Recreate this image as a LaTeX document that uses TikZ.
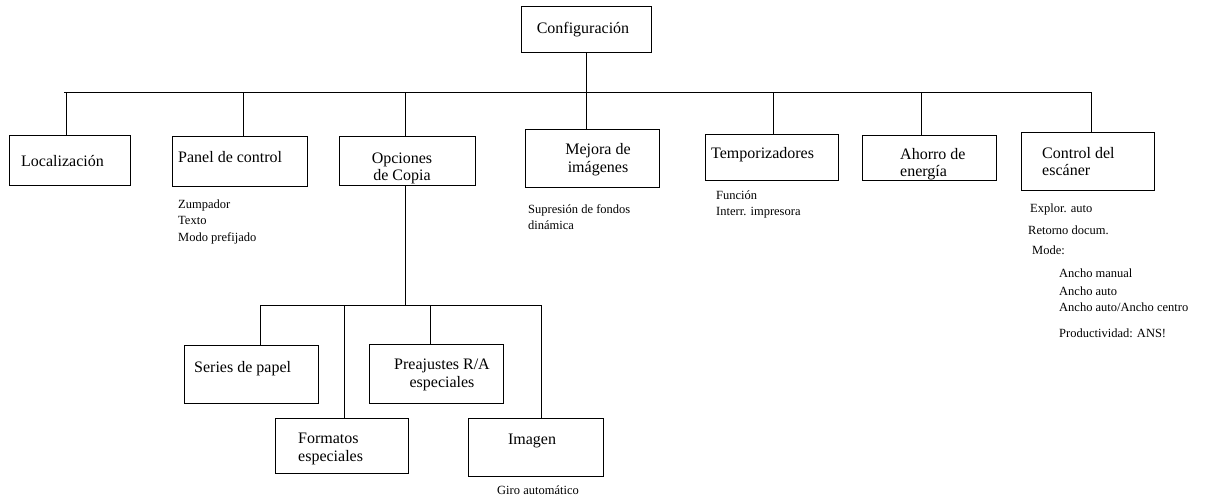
\documentclass[tikz,border=0pt]{standalone}
\usepackage{fontspec}
\setmainfont{Liberation Serif}
\begin{document}
\begin{tikzpicture}[x=1pt,y=-1pt,
  box/.style={draw, line width=0.9pt, inner sep=0pt},
  link/.style={line width=0.9pt},
  big/.style={font=\fontsize{16}{19}\selectfont, inner sep=0pt},
  small/.style={font=\fontsize{12.5}{15}\selectfont, inner sep=0pt}]
\useasboundingbox (0,0) rectangle (1207,499);
% boxes
\node[box, minimum width=130pt, minimum height=46pt] (conf) at (586,29) {};
\node[box, minimum width=121pt, minimum height=50pt] (loc) at (69.5,160) {};
\node[box, minimum width=135pt, minimum height=50pt] (pan) at (239.5,161) {};
\node[box, minimum width=136pt, minimum height=49pt] (opc) at (407,160.5) {};
\node[box, minimum width=134pt, minimum height=58pt] (mej) at (592,158) {};
\node[box, minimum width=133pt, minimum height=46pt] (tem) at (771.5,157) {};
\node[box, minimum width=134pt, minimum height=45pt] (aho) at (929,157.5) {};
\node[box, minimum width=133pt, minimum height=58pt] (ctl) at (1087.5,161) {};
\node[box, minimum width=134pt, minimum height=58pt] (ser) at (251,374) {};
\node[box, minimum width=133pt, minimum height=55pt] (for) at (341.5,445.5) {};
\node[box, minimum width=134pt, minimum height=59pt] (pre) at (436,373.5) {};
\node[box, minimum width=135pt, minimum height=58pt] (ima) at (535.5,447) {};
% box texts
\node[big, anchor=base] (tconf) at (583,33) {Configuración};
\node[big, anchor=base west] (tloc) at (21,166) {Localización};
\node[big, anchor=base west] (tpan) at (178,162) {Panel de control};
\node[big, anchor=base] (topc1) at (402,163) {Opciones};
\node[big, anchor=base] (topc2) at (402,180) {de Copia};
\node[big, anchor=base] (tmej1) at (598,154) {Mejora de};
\node[big, anchor=base] (tmej2) at (598,172) {imágenes};
\node[big, anchor=base west] (ttem) at (711,158) {Temporizadores};
\node[big, anchor=base west] (taho1) at (900,159) {Ahorro de};
\node[big, anchor=base west] (taho2) at (900,176) {energía};
\node[big, anchor=base west] (tctl1) at (1042,158) {Control del};
\node[big, anchor=base west] (tctl2) at (1042,175) {escáner};
\node[big, anchor=base west] (tser) at (194,372) {Series de papel};
\node[big, anchor=base] (tpre1) at (442,369) {Preajustes R/A};
\node[big, anchor=base] (tpre2) at (442,387) {especiales};
\node[big, anchor=base west] (tfor1) at (298,443) {Formatos};
\node[big, anchor=base west] (tfor2) at (298,461) {especiales};
\node[big, anchor=base] (tima) at (532,444) {Imagen};
% sub texts
\node[small, anchor=base west] (p1) at (178,208) {Zumpador};
\node[small, anchor=base west] (p2) at (178,224) {Texto};
\node[small, anchor=base west] (p3) at (178,241) {Modo prefijado};
\node[small, anchor=base west] (m1) at (528,213) {Supresión de fondos};
\node[small, anchor=base west] (m2) at (528,229) {dinámica};
\node[small, anchor=base west] (t1) at (716,199) {Función};
\node[small, anchor=base west] (t2) at (716,215) {Interr. impresora};
\node[small, anchor=base west] (c1) at (1030,212) {Explor. auto};
\node[small, anchor=base west] (c2) at (1028,234) {Retorno docum.};
\node[small, anchor=base west] (c3) at (1032,254) {Mode:};
\node[small, anchor=base west] (c4) at (1059,277) {Ancho manual};
\node[small, anchor=base west] (c5) at (1059,295) {Ancho auto};
\node[small, anchor=base west] (c6) at (1059,311) {Ancho auto/Ancho centro};
\node[small, anchor=base west] (c7) at (1059,337) {Productividad: ANS!};
\node[small, anchor=base] (g1) at (538,494) {Giro automático};
% connectors, first level
\coordinate (b1l) at (64,92);
\coordinate (b1r) at (1091,92);
\coordinate (s1) at (66,92);
\coordinate (s2) at (243,92);
\coordinate (s3) at (405,92);
\coordinate (s4) at (586,92);
\coordinate (s5) at (773,92);
\coordinate (s6) at (921,92);
\draw[link] (b1l) -- (b1r);
\draw[link] (conf.south) -- (conf.south |- mej.north);
\draw[link] (s1) -- (s1 |- loc.north);
\draw[link] (s2) -- (s2 |- pan.north);
\draw[link] (s3) -- (s3 |- opc.north);
\draw[link] (s5) -- (s5 |- tem.north);
\draw[link] (s6) -- (s6 |- aho.north);
\draw[link] (b1r) -- (b1r |- ctl.north);
% second level
\coordinate (b2l) at (260,305);
\coordinate (b2r) at (541,305);
\coordinate (o2) at (405,305);
\coordinate (u2) at (344,305);
\coordinate (u3) at (430,305);
\draw[link] (o2 |- opc.south) -- (o2);
\draw[link] (b2l) -- (b2r);
\draw[link] (b2l) -- (b2l |- ser.north);
\draw[link] (u2) -- (u2 |- for.north);
\draw[link] (u3) -- (u3 |- pre.north);
\draw[link] (b2r) -- (b2r |- ima.north);
\end{tikzpicture}
\end{document}
